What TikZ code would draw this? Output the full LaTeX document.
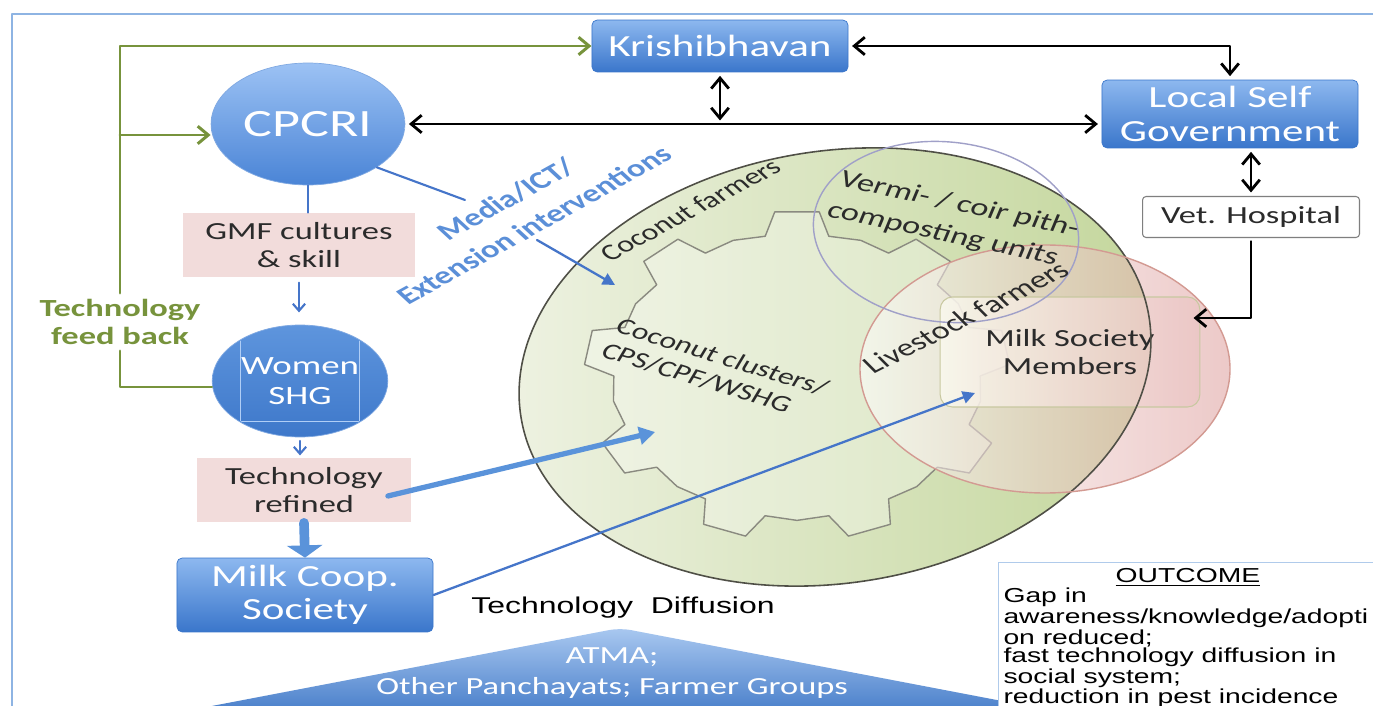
\documentclass[tikz,border=0pt]{standalone}
\usepackage{fontspec}
\setmainfont{Carlito}
\newfontfamily\tdarial{Liberation Sans}
\usepackage{tikz}
\usetikzlibrary{arrows.meta,calc,shapes.geometric}
\definecolor{tdBlueTop}{HTML}{8DB8EF}
\definecolor{tdBlueBot}{HTML}{3A76CB}
\definecolor{tdOvalTop}{HTML}{9CC2F4}
\definecolor{tdOvalBot}{HTML}{4A84D6}
\definecolor{tdShgTop}{HTML}{5E95DD}
\definecolor{tdShgBot}{HTML}{3E78CA}
\definecolor{tdLink}{HTML}{4575C9}
\definecolor{tdArrow}{HTML}{5A93DA}
\definecolor{tdMedia}{HTML}{5B8FD8}
\definecolor{tdGreen}{HTML}{77933C}
\definecolor{tdPink}{HTML}{F2DCDB}
\definecolor{tdInk}{HTML}{2B2B2B}
\definecolor{tdFrame}{HTML}{8EB4E3}
\definecolor{tdLeaf}{HTML}{C3D69B}
\definecolor{tdLeafPale}{HTML}{EEF2E2}
\definecolor{tdRose}{HTML}{DE9E9C}
\definecolor{tdRoseLine}{HTML}{D39A92}
\definecolor{tdViolet}{HTML}{A0A0C8}
\definecolor{tdGrey}{HTML}{7F7F7F}
\definecolor{tdGearLine}{HTML}{8A8A80}
\definecolor{tdDark}{HTML}{4F4F46}
\definecolor{tdCream}{HTML}{FBFBF0}
\definecolor{tdOlive}{HTML}{C8C8A0}
\definecolor{tdAtmaTop}{HTML}{A9C8F0}
\definecolor{tdAtmaBot}{HTML}{2F6BC0}
\newcommand{\tdfont}[2]{\fontsize{#1}{#2}\selectfont}
\tikzset{
  td diagram/.style={x=0.02cm, y=-0.02cm, line cap=round, line join=round},
  td stretch/.style={xscale=1.4},
  td frame/.style={draw=tdFrame, line width=1.2pt},
  td blue box/.style={td stretch, rectangle, rounded corners=3pt,
    top color=tdBlueTop, bottom color=tdBlueBot, draw=tdBlueBot, line width=0.4pt,
    text=white, align=center, inner sep=0pt, font=\tdfont{17.5}{19}},
  td oval/.style={td stretch, ellipse, inner sep=0pt, top color=tdOvalTop,
    bottom color=tdOvalBot, draw=tdOvalBot!70, line width=0.4pt,
    text=white, align=center},
  td shg frame/.style={draw=tdOvalTop!80!white, line width=0.5pt},
  td pink box/.style={td stretch, rectangle, fill=tdPink, inner sep=0pt,
    text=tdInk, align=center, font=\tdfont{14}{16}},
  td white box/.style={td stretch, rectangle, rounded corners=2pt, draw=tdGrey,
    fill=white, line width=0.6pt, text=tdInk, inner sep=0pt, font=\tdfont{14}{16}},
  td members/.style={td stretch, rectangle, rounded corners=7pt, left color=tdCream,
    right color=tdRose!60, fill opacity=0.75, text opacity=1, draw=tdOlive,
    line width=0.6pt, text=tdInk, align=center, font=\tdfont{14}{16}},
  td field/.style={left color=tdLeafPale, right color=tdLeaf},
  td field line/.style={draw=tdDark, line width=0.9pt},
  td gear/.style={fill=white, fill opacity=0.3, draw=tdGearLine, line width=0.8pt},
  td rose/.style={left color=white, right color=tdRose, fill opacity=0.55},
  td rose line/.style={draw=tdRoseLine, line width=0.8pt},
  td vermi/.style={draw=tdViolet, line width=0.8pt},
  td field text/.style={td stretch, text=tdInk, align=center, inner sep=0pt,
    font=\tdfont{14}{16}},
  td link/.style={draw=black, line width=1.6pt, shorten <=2pt, shorten >=2pt,
    >={Straight Barb[length=6pt,width=10pt]}},
  td feedback/.style={draw=tdGreen, line width=1.7pt,
    >={Straight Barb[length=6pt,width=10pt]}},
  td feedback text/.style={td stretch, text=tdGreen, align=center,
    font=\tdfont{14}{16}\bfseries},
  td flow/.style={draw=tdLink, line width=1.2pt,
    >={Straight Barb[length=4pt,width=7pt]}},
  td spread/.style={draw=tdLink, line width=1.3pt, -{Triangle[length=7pt,width=7pt]}},
  td thick/.style={draw=tdArrow, line width=3pt, -{Triangle[length=9pt,width=10pt]}},
  td fat/.style={draw=tdArrow, line width=5.5pt, -{Triangle[length=7pt,width=20pt]}},
  td media/.style={td stretch, text=tdMedia, align=center, font=\tdfont{14}{18.5}\bfseries},
  td caption/.style={td stretch, text=black, font=\tdarial\tdfont{13}{15}},
  td atma shape/.style={top color=tdAtmaTop, bottom color=tdAtmaBot, rounded corners=6pt},
  td atma/.style={td stretch, text=white, align=center, inner sep=0pt,
    font=\tdfont{14}{17.6}},
  td outcome/.style={td stretch, rectangle, draw=tdFrame!70, fill=white,
    line width=0.6pt, inner sep=0pt},
  td outcome text/.style={td stretch, text=black, align=left, inner sep=0pt,
    font=\tdarial\tdfont{11.5}{10.6}}
}

\begin{document}
\begin{tikzpicture}[td diagram]
\useasboundingbox (0,0) rectangle (1373,706);
\fill[white] (0,0) rectangle (1373,706);
\draw[td frame] (12,720) |- (1390,14);

% diffusion field, gear and overlapping groups
\shade[td field, rotate around={9:(835,367)}] (835,367) ellipse [x radius=318, y radius=216];
\begin{scope}[shift={(797,376)}, xscale=213, yscale=165]
\filldraw[td gear] (260:0.86) \foreach \a in {270,310,...,590}{
  -- (\a-10:0.86) -- (\a-6:1) -- (\a+6:1) -- (\a+10:0.86) -- (\a+20:0.875)} -- cycle;
\end{scope}
\shade[td rose] (1045,369) ellipse [x radius=185, y radius=124];
\node[td members, minimum width=3.71cm, minimum height=2.2cm] (members) at (1070,352) {Milk Society\\Members};
\draw[td field line, rotate around={9:(835,367)}] (835,367) ellipse [x radius=318, y radius=216];
\draw[td rose line] (1045,369) ellipse [x radius=185, y radius=124];
\draw[td vermi, rotate around={-6:(946,232)}] (946,232) ellipse [x radius=133, y radius=90];

\node[td field text, font=\tdfont{13}{15}, rotate=36.7] (farmers) at (690,210) {Coconut farmers};
\node[td field text, font=\tdfont{13}{15}, align=left, rotate=-23.2] (clusters) at (715,369) {Coconut clusters/\\CPS/CPF/WSHG};
\node[td field text, font=\tdfont{14}{18}, align=left, rotate=-16.6] (vermi) at (953,220) {Vermi- / coir pith-\\composting units};
\node[td field text, rotate=35.5] (livestock) at (966,317) {Livestock farmers};

% base of the diffusion
\shade[td atma shape] (60,735) -- (620,628) -- (1180,735) -- cycle;
\node[td atma] (atma) at (612,673) {ATMA;\\Other Panchayats; Farmer Groups};
\node[td caption] (diffusion) at (623,608) {Technology\ \ Diffusion};

% actors
\node[td blue box, minimum width=3.66cm, minimum height=1.04cm] (krishi) at (720,46) {Krishibhavan};
\node[td blue box, minimum width=3.66cm, minimum height=1.36cm] (lsg) at (1230,114) {Local Self\\Government};
\node[td oval, minimum width=2.77cm, minimum height=2.44cm, font=\tdfont{22}{24}] (cpcri) at (308,124) {CPCRI};
\node[td pink box, minimum width=3.31cm, minimum height=1.28cm] (gmf) at (299,245) {GMF cultures\\\& skill};
\node[td oval, top color=tdShgTop, bottom color=tdShgBot, minimum width=2.51cm, minimum height=2.24cm, font=\tdfont{15}{17}] (shg) at (300,381) {Women\\SHG};
\begin{scope}
\clip (300,381) ellipse [x radius=87, y radius=55];
\draw[td shg frame] (240,300) rectangle (359,421);
\end{scope}
\node[td pink box, minimum width=3.07cm, minimum height=1.3cm] (refined) at (304,490) {Technology\\refined};
\node[td blue box, minimum width=3.66cm, minimum height=1.48cm] (coop) at (305,595) {Milk Coop.\\Society};
\node[td white box, minimum width=3.1cm, minimum height=0.82cm] (vet) at (1251,217) {Vet. Hospital};
\node[td feedback text] (feedback) at (120,322) {Technology\\feed back};
\node[td media, rotate=37.8] (media) at (520,212) {Media/ICT/\\Extension interventions};

% outcome
\node[td outcome, anchor=north west, minimum width=5.71cm, minimum height=3.4cm] (outcome) at (998,562) {};
\node[td outcome text, anchor=north] (outhead) at (1188,568) {\underline{OUTCOME}};
\node[td outcome text, anchor=north west] (outbody) at (1003,588) {Gap in\\awareness/knowledge/adopti\\on reduced;\\fast technology diffusion in\\social system;\\reduction in pest incidence};

% feedback loop
\coordinate (cpcriin) at ($(cpcri.west)+(0,11)$);
\draw[td feedback] ($(shg.west)+(0,6)$) -| (feedback.south);
\draw[td feedback, ->] (feedback.north) |- (krishi.west);
\draw[td feedback, ->] (feedback.north |- cpcriin) -- (cpcriin);

% institutional links
\coordinate (hub) at (krishi.south |- cpcri.east);
\coordinate (vetin) at (1190,318);
\draw[td link, <->] (cpcri.east) -- (cpcri.east -| lsg.west);
\draw[td link, <->] (krishi.south) -- (hub);
\draw[td link, <->] (krishi.east) -| (lsg.north);
\draw[td link, <->] (vet.north |- lsg.south) -- (vet.north);
\draw[td link, ->] (vet.south) |- (vetin);

% technology flow
\coordinate (mediatop) at (465,200);
\coordinate (mediabot) at (537,240);
\coordinate (farmersin) at (615,285);
\coordinate (clusterin) at (655,432);
\coordinate (membersin) at (975,393);
\draw[td flow] (cpcri.south) -- (cpcri.south |- gmf.north);
\draw[td flow, ->, shorten <=3pt, shorten >=7pt] (gmf.south) -- (gmf.south |- shg.north);
\draw[td flow, ->, shorten <=2pt, shorten >=1pt] (shg.south) -- (shg.south |- refined.north);
\draw[td fat] (refined.south) -- (coop.north);
\draw[td thick] ($(refined.east)+(-24,6)$) -- (clusterin);
\draw[td spread] (coop.east) -- (membersin);
\draw[td flow] (cpcri.south east) -- (mediatop);
\draw[td spread] (mediabot) -- (farmersin);
\end{tikzpicture}
\end{document}
